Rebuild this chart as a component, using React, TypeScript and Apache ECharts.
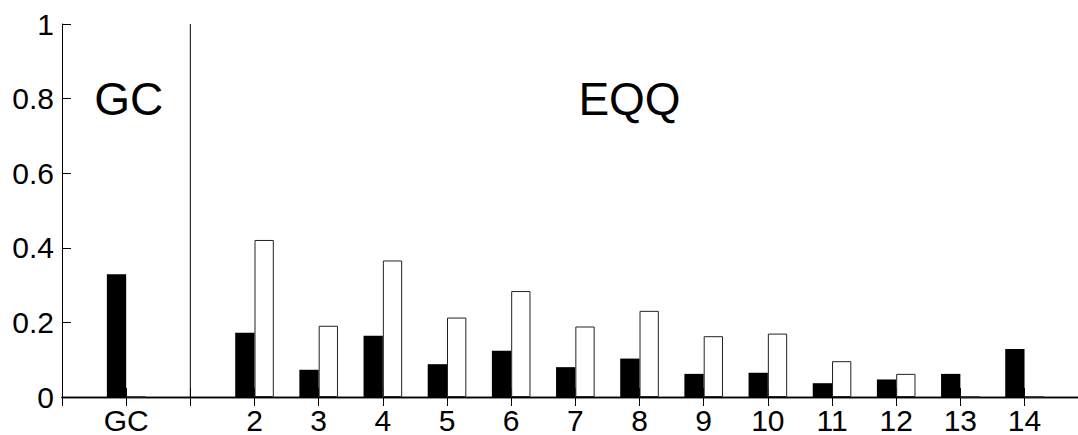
import React, { useEffect, useRef } from "react";
import * as echarts from "echarts";

// Category slots along the x axis (blank slots are spacers / the divider position)
const categories = ["", "GC", "", "2", "3", "4", "5", "6", "7", "8", "9", "10", "11", "12", "13", "14", ""];
// Black (filled) bars
const blackValues = [null, 0.329, null, 0.172, 0.073, 0.164, 0.088, 0.124, 0.08, 0.103, 0.062, 0.065, 0.037, 0.047, 0.062, 0.129, null];
// White (open) bars
const whiteValues = [null, 0, null, 0.421, 0.191, 0.366, 0.213, 0.284, 0.189, 0.231, 0.163, 0.17, 0.096, 0.062, 0, 0, null];
// Vertical divider separating GC from EQQ (category index, from y=0 to y=1)
const dividerLine = [
  [2, 0],
  [2, 1],
];
// Region titles
const regionTitles = ["GC", "EQQ"];
// Y axis
const yMin = 0;
const yMax = 1;
const yInterval = 0.2;

const FONT = "'Liberation Sans', Arial, Helvetica, sans-serif";
const CHART_W = 1110;

export default function App() {
  const ref = useRef<HTMLDivElement>(null);
  useEffect(() => {
    if (!ref.current) return;
    const chart = echarts.init(ref.current, null, { renderer: "svg" });
    const axisLine = { show: true, lineStyle: { color: "#000", width: 1.3 } };
    chart.setOption({
      animation: false,
      backgroundColor: "#fff",
      grid: { left: 62, right: CHART_W - 1088.7, top: 24, bottom: 38, containLabel: false },
      xAxis: [
        {
          type: "category",
          data: categories,
          boundaryGap: false,
          position: "bottom",
          axisLine,
          axisTick: { show: true, inside: true, length: 9, interval: 0, lineStyle: { color: "#000" } },
          axisLabel: { interval: 0, color: "#000", fontSize: 30, fontFamily: FONT, margin: 8 },
          splitLine: { show: false },
        },
        {
          type: "category",
          data: categories,
          boundaryGap: false,
          position: "top",
          axisLine,
          axisTick: { show: true, inside: true, length: 9, interval: 0, lineStyle: { color: "#000" } },
          axisLabel: { show: false },
          splitLine: { show: false },
        },
      ],
      yAxis: [
        {
          type: "value",
          min: yMin,
          max: yMax,
          interval: yInterval,
          position: "left",
          axisLine: { show: true, lineStyle: { color: "#000", width: 1 } },
          axisTick: { show: true, inside: true, length: 9, lineStyle: { color: "#000" } },
          axisLabel: { color: "#000", fontSize: 30, fontFamily: FONT, margin: 8 },
          splitLine: { show: false },
        },
        {
          type: "value",
          min: yMin,
          max: yMax,
          interval: yInterval,
          position: "right",
          axisLine: { show: true, lineStyle: { color: "#000", width: 1 } },
          axisTick: { show: true, inside: true, length: 9, lineStyle: { color: "#000" } },
          axisLabel: { show: false },
          splitLine: { show: false },
        },
      ],
      series: [
        {
          type: "bar",
          data: blackValues,
          barWidth: 19.3,
          barGap: "0%",
          itemStyle: { color: "#000", borderColor: "#000", borderWidth: 0 },
          silent: true,
        },
        {
          type: "bar",
          data: whiteValues,
          barWidth: 19.3,
          barGap: "0%",
          itemStyle: { color: "#fff", borderColor: "#222", borderWidth: 1 },
          silent: true,
        },
        {
          type: "line",
          data: dividerLine,
          symbol: "none",
          lineStyle: { color: "#000", width: 1 },
          silent: true,
          z: 5,
        },
      ],
      graphic: [
        {
          type: "text",
          x: 128.7,
          y: 99,
          style: {
            text: regionTitles[0],
            fontSize: 46,
            fontFamily: FONT,
            fill: "#000",
            align: "center",
            verticalAlign: "middle",
          },
        },
        {
          type: "text",
          x: 629.5,
          y: 99,
          style: {
            text: regionTitles[1],
            fontSize: 46,
            fontFamily: FONT,
            fill: "#000",
            align: "center",
            verticalAlign: "middle",
          },
        },
      ],
    });
    return () => chart.dispose();
  }, []);
  return (
    <div
      style={{
        position: "absolute",
        left: 0,
        top: 0,
        width: 1078,
        height: 435,
        overflow: "hidden",
        background: "#fff",
      }}
    >
      <div ref={ref} style={{ width: CHART_W, height: 435 }} />
    </div>
  );
}
